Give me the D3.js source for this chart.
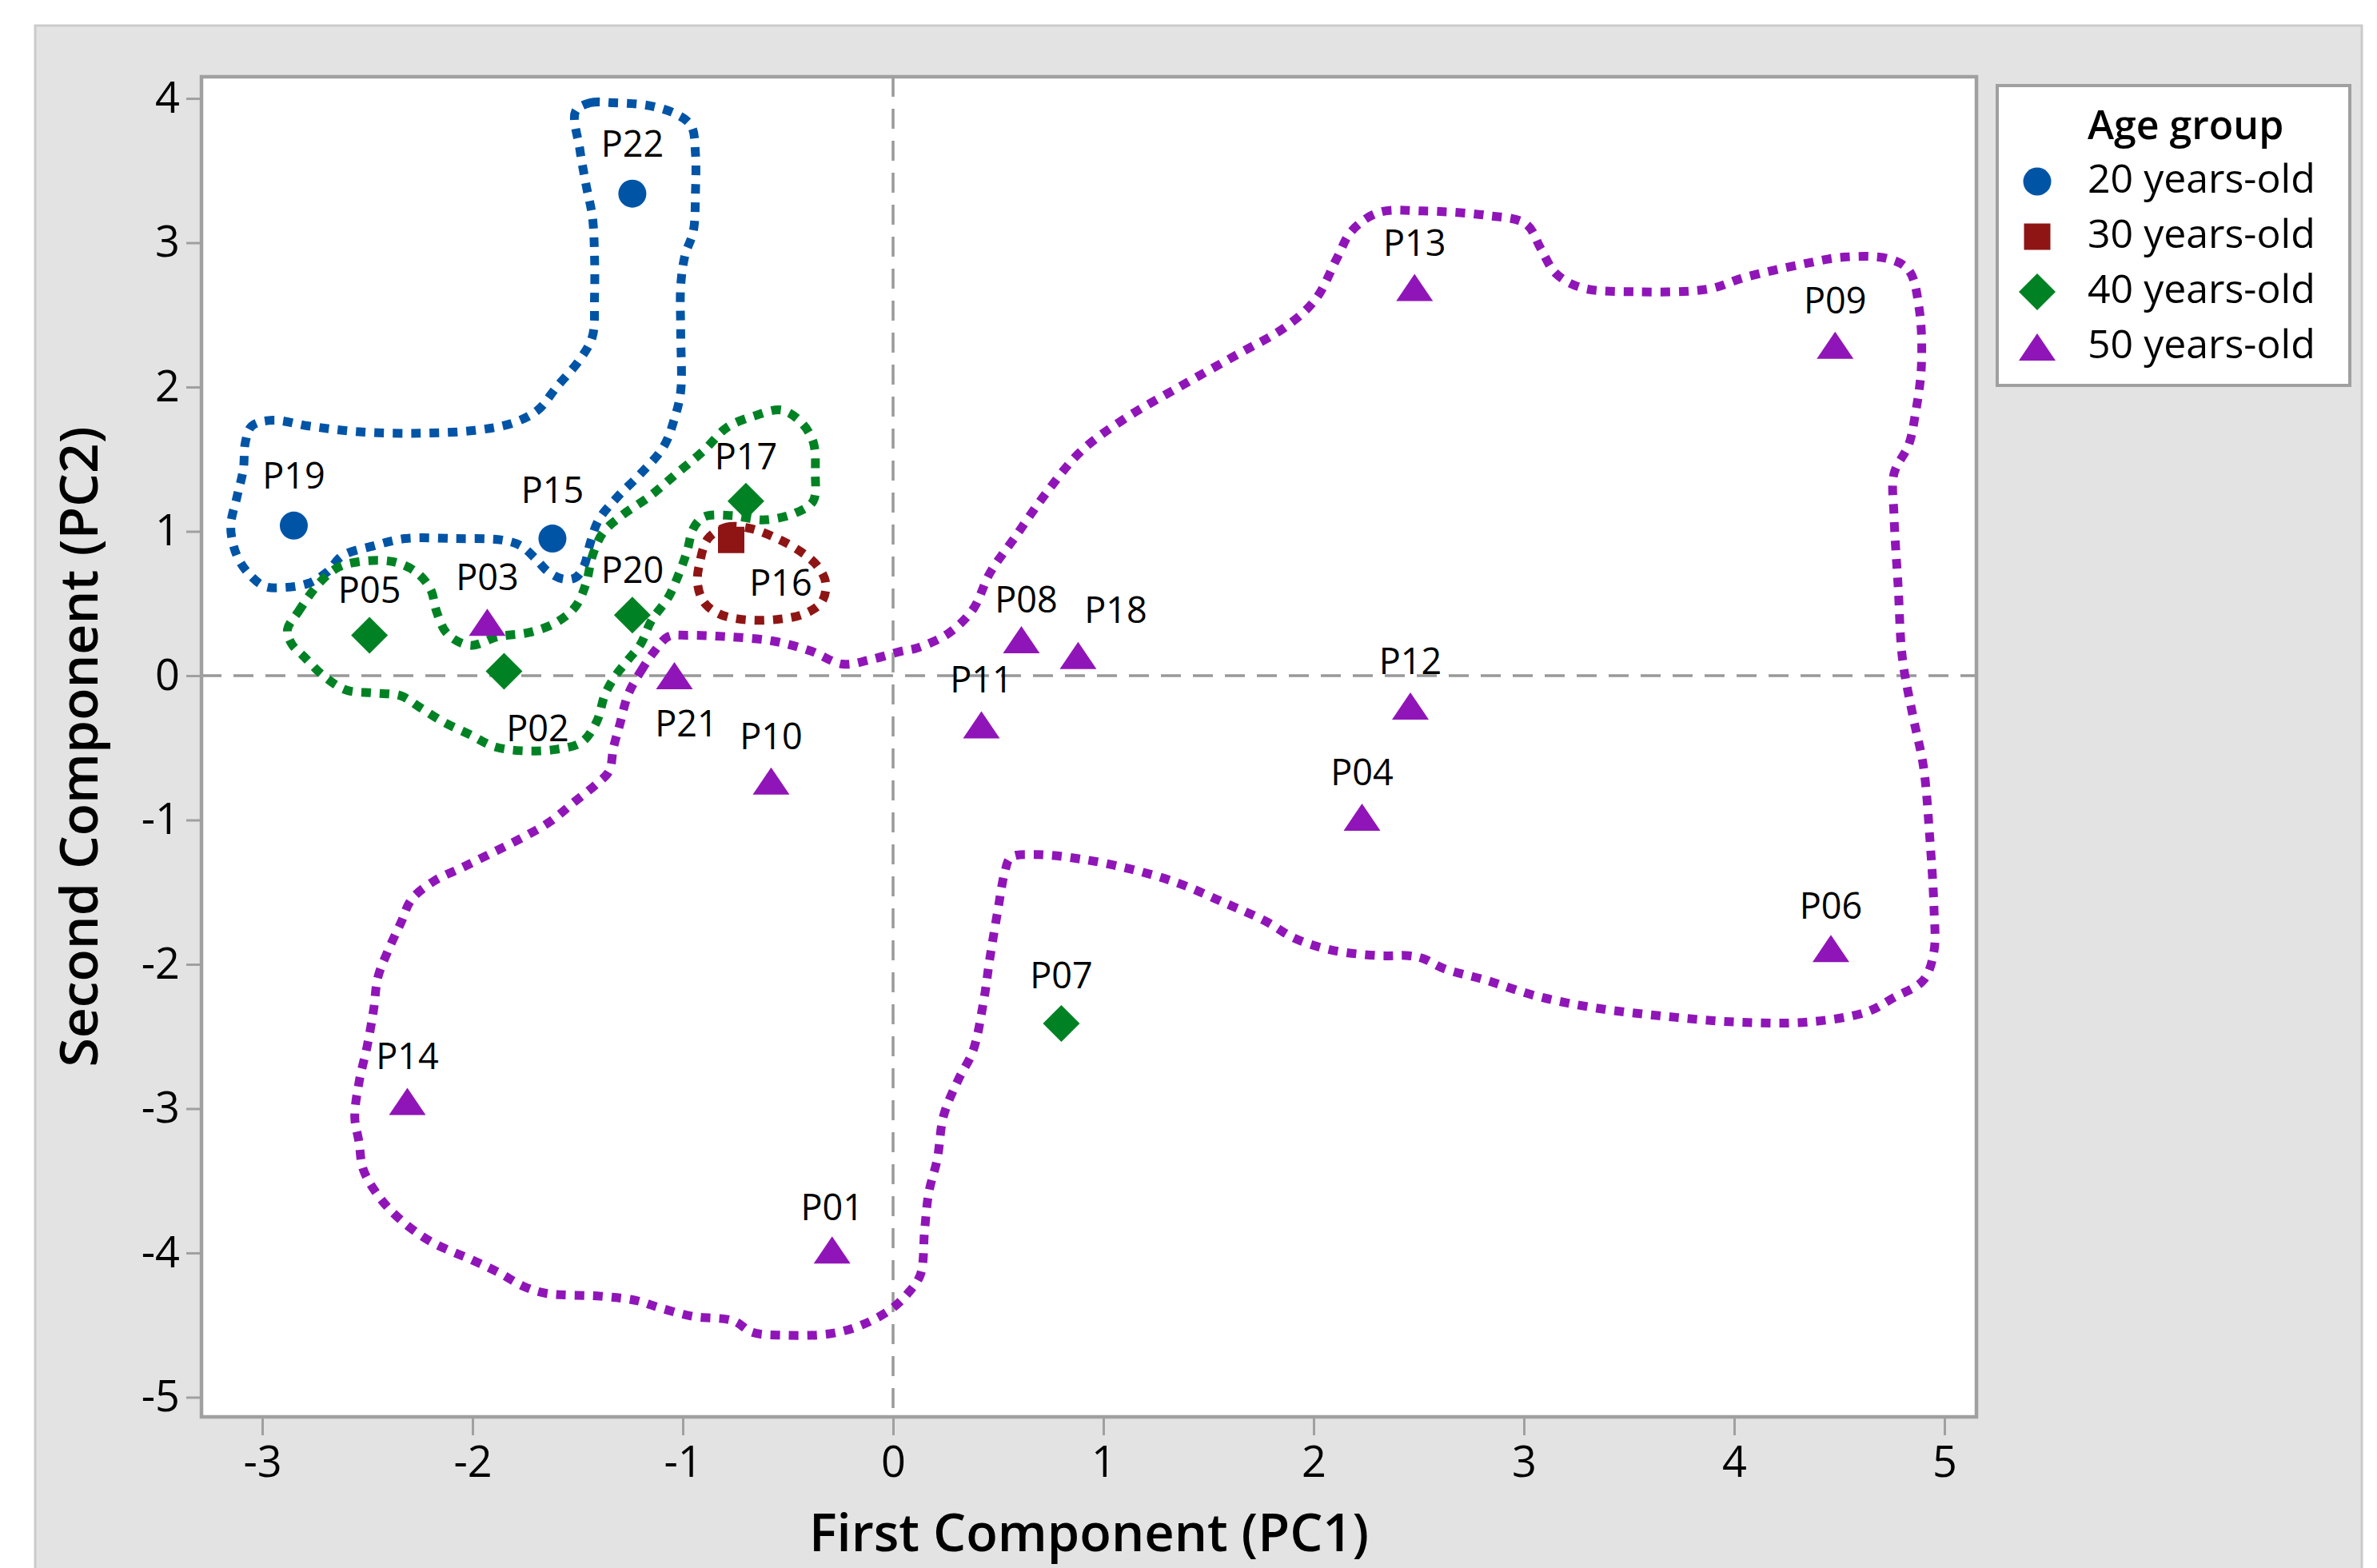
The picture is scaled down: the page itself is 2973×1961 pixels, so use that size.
<!DOCTYPE html>
<html>
<head>
<meta charset="utf-8">
<script src="https://cdn.jsdelivr.net/npm/d3@7"></script>
<style>
  body { margin: 0; background: #fff; }
  svg { display: block; }
  text { font-family: "Open Sans", "Noto Sans", sans-serif; fill: #000; }
</style>
</head>
<body>
<div id="viz"></div>
<script>
// --- data ---
const names = ["P01","P02","P03","P04","P05","P06","P07","P08","P09","P10","P11",
               "P12","P13","P14","P15","P16","P17","P18","P19","P20","P21","P22"];
const pc1 = [-0.29,-1.85,-1.93, 2.23,-2.49, 4.46, 0.80, 0.61, 4.48,-0.58, 0.42,
              2.46, 2.48,-2.31,-1.62,-0.77,-0.70, 0.88,-2.85,-1.24,-1.04,-1.24];
const pc2 = [-3.98, 0.03, 0.37,-0.98, 0.28,-1.89,-2.41, 0.25, 2.29,-0.73,-0.34,
             -0.21, 2.69,-2.95, 0.95, 0.94, 1.21, 0.14, 1.04, 0.42, 0.00, 3.34];
const ageGroup = [50,40,50,50,40,50,40,50,50,50,50,
                  50,50,50,20,30,40,50,20,40,50,20];

const groups = [20, 30, 40, 50];
const groupLabels = ["20 years-old", "30 years-old", "40 years-old", "50 years-old"];

const xTicks = [-3, -2, -1, 0, 1, 2, 3, 4, 5];
const yTicks = [-5, -4, -3, -2, -1, 0, 1, 2, 3, 4];

// hand drawn group outlines (PC1, PC2)
const outline20 = [[-1.51,3.91],[-1.44,3.97],[-1.33,3.97],[-1.16,3.95],[-1.03,3.89],[-0.96,3.81],
  [-0.94,3.62],[-0.94,3.34],[-0.95,3.08],[-0.99,2.91],[-1.01,2.70],[-1.01,2.38],[-1.01,1.97],
  [-1.04,1.78],[-1.09,1.59],[-1.20,1.40],[-1.31,1.24],[-1.40,1.08],[-1.44,0.92],[-1.47,0.76],
  [-1.51,0.68],[-1.57,0.67],[-1.64,0.72],[-1.70,0.81],[-1.77,0.90],[-1.86,0.94],[-2.08,0.95],
  [-2.32,0.95],[-2.47,0.90],[-2.62,0.83],[-2.69,0.72],[-2.78,0.64],[-2.91,0.61],[-2.99,0.62],
  [-3.06,0.70],[-3.12,0.83],[-3.15,1.03],[-3.12,1.24],[-3.09,1.43],[-3.08,1.62],[-3.05,1.73],
  [-2.95,1.77],[-2.78,1.73],[-2.54,1.69],[-2.25,1.68],[-1.99,1.70],[-1.81,1.75],[-1.69,1.84],
  [-1.60,2.00],[-1.49,2.19],[-1.43,2.35],[-1.42,2.61],[-1.42,2.92],[-1.43,3.18],[-1.46,3.40],
  [-1.49,3.65]];
const outline30 = [[-0.88,0.95],[-0.79,1.03],[-0.68,1.02],[-0.55,0.95],[-0.44,0.86],[-0.36,0.76],
  [-0.32,0.64],[-0.34,0.51],[-0.42,0.43],[-0.55,0.39],[-0.72,0.39],[-0.83,0.43],[-0.90,0.51],
  [-0.93,0.64],[-0.92,0.78]];
const outline40 = [[-2.88,0.32],[-2.83,0.44],[-2.73,0.64],[-2.64,0.75],[-2.54,0.79],[-2.38,0.79],
  [-2.27,0.72],[-2.20,0.60],[-2.17,0.44],[-2.12,0.29],[-2.01,0.21],[-1.88,0.27],[-1.73,0.30],
  [-1.60,0.37],[-1.51,0.48],[-1.46,0.64],[-1.43,0.83],[-1.38,0.99],[-1.29,1.11],[-1.16,1.24],
  [-1.03,1.40],[-0.90,1.56],[-0.79,1.72],[-0.66,1.80],[-0.53,1.84],[-0.44,1.76],[-0.38,1.62],
  [-0.37,1.40],[-0.38,1.21],[-0.46,1.13],[-0.61,1.08],[-0.77,1.11],[-0.90,1.10],[-0.95,1.02],
  [-0.98,0.86],[-1.02,0.70],[-1.07,0.54],[-1.15,0.38],[-1.20,0.22],[-1.26,0.11],[-1.32,0.00],
  [-1.37,-0.13],[-1.41,-0.32],[-1.48,-0.46],[-1.60,-0.51],[-1.77,-0.52],[-1.90,-0.49],
  [-2.01,-0.41],[-2.14,-0.32],[-2.25,-0.22],[-2.34,-0.14],[-2.47,-0.12],[-2.60,-0.10],
  [-2.71,0.00],[-2.80,0.13],[-2.86,0.22]];
const outline50 = [[-1.26,-0.13],[-1.20,0.03],[-1.14,0.16],[-1.07,0.27],[-0.98,0.28],[-0.79,0.27],
  [-0.57,0.24],[-0.39,0.17],[-0.24,0.08],[-0.11,0.11],[0.04,0.17],[0.11,0.19],[0.26,0.29],
  [0.38,0.46],[0.46,0.71],[0.58,0.96],[0.72,1.25],[0.89,1.55],[1.09,1.77],[1.36,2.00],[1.63,2.22],
  [1.87,2.42],[2.01,2.61],[2.11,2.89],[2.18,3.08],[2.31,3.21],[2.52,3.22],[2.82,3.19],[3.01,3.13],
  [3.08,2.96],[3.15,2.79],[3.27,2.69],[3.54,2.66],[3.88,2.68],[4.05,2.76],[4.32,2.85],[4.52,2.90],
  [4.73,2.89],[4.83,2.81],[4.88,2.54],[4.89,2.14],[4.86,1.80],[4.83,1.60],[4.76,1.40],[4.76,1.11],
  [4.78,0.61],[4.80,0.12],[4.85,-0.28],[4.90,-0.63],[4.93,-1.12],[4.95,-1.61],[4.95,-1.91],
  [4.90,-2.11],[4.76,-2.23],[4.63,-2.33],[4.35,-2.40],[4.01,-2.40],[3.67,-2.36],[3.33,-2.30],
  [3.06,-2.22],[2.82,-2.11],[2.62,-2.03],[2.52,-1.96],[2.45,-1.94],[2.31,-1.94],[2.08,-1.90],
  [1.91,-1.82],[1.77,-1.70],[1.57,-1.57],[1.36,-1.44],[1.13,-1.34],[0.89,-1.27],[0.68,-1.24],
  [0.56,-1.26],[0.53,-1.37],[0.50,-1.61],[0.46,-1.96],[0.43,-2.26],[0.38,-2.60],[0.31,-2.80],
  [0.24,-3.05],[0.21,-3.35],[0.17,-3.58],[0.15,-3.84],[0.13,-4.15],[0.07,-4.28],[-0.01,-4.39],
  [-0.15,-4.50],[-0.30,-4.56],[-0.52,-4.57],[-0.67,-4.55],[-0.76,-4.47],[-0.95,-4.44],
  [-1.11,-4.38],[-1.22,-4.33],[-1.39,-4.30],[-1.65,-4.28],[-1.76,-4.23],[-1.87,-4.14],
  [-2.00,-4.05],[-2.20,-3.92],[-2.35,-3.76],[-2.45,-3.60],[-2.52,-3.42],[-2.54,-3.23],
  [-2.56,-3.06],[-2.54,-2.82],[-2.50,-2.56],[-2.47,-2.31],[-2.45,-2.09],[-2.40,-1.90],
  [-2.34,-1.71],[-2.29,-1.55],[-2.18,-1.42],[-2.05,-1.33],[-1.91,-1.23],[-1.76,-1.12],
  [-1.63,-1.01],[-1.52,-0.88],[-1.41,-0.75],[-1.35,-0.66],[-1.33,-0.50],[-1.30,-0.34]];
const outlines = [outline20, outline30, outline40, outline50];

// --- layout / style ---
const W = 2973, H = 1961;
const plot = { left: 252, top: 96, right: 2472, bottom: 1772 };
const colors = { 20: "#0054a6", 30: "#8f1515", 40: "#008224", 50: "#9015b8" };
// label nudges in px (default: centred above the marker)
const labelNudge = { P16: [62, 54], P02: [42, 71], P21: [15, 60], P18: [47, -57], P08: [6, -50],
                     P22: [0, -62], P19: [0, -62], P15: [0, -61], P07: [0, -60], P06: [0, -53], P01: [0, -53] };

const x = d3.scaleLinear().domain([-3.289, 5.152]).range([plot.left, plot.right]);
const y = d3.scaleLinear().domain([-5.136, 4.150]).range([plot.bottom, plot.top]);

function shape(g) {
  if (g === 20) return "M17.5,0A17.5,17.5 0 1,1 -17.5,0A17.5,17.5 0 1,1 17.5,0Z";
  if (g === 30) return "M-16.5,-16.5H16.5V16.5H-16.5Z";
  if (g === 40) return "M0,-23L23,0L0,23L-23,0Z";
  return "M0,-17L23,17L-23,17Z";
}

const svg = d3.select("#viz").append("svg").attr("width", W).attr("height", H);

// outer panel
svg.append("rect").attr("x", 44).attr("y", 32).attr("width", 2910).attr("height", 2000)
  .attr("fill", "#e3e3e3").attr("stroke", "#cbcbcb").attr("stroke-width", 3);

// plot area
svg.append("rect").attr("x", plot.left).attr("y", plot.top)
  .attr("width", plot.right - plot.left).attr("height", plot.bottom - plot.top)
  .attr("fill", "#fff");

// reference lines
const ref = svg.append("g").attr("stroke", "#999").attr("stroke-width", 3.5).attr("stroke-dasharray", "25 15");
ref.append("line").attr("x1", x(0)).attr("x2", x(0)).attr("y1", plot.top).attr("y2", plot.bottom);
ref.append("line").attr("x1", plot.left).attr("x2", plot.right).attr("y1", y(0)).attr("y2", y(0));

// outlines
const line = d3.line().x(d => x(d[0])).y(d => y(d[1])).curve(d3.curveCatmullRomClosed.alpha(0.5));
svg.append("g").selectAll("path")
  .data(outlines).enter().append("path")
  .attr("d", line)
  .attr("fill", "none")
  .attr("stroke", (d, i) => colors[groups[i]])
  .attr("stroke-width", 11)
  .attr("stroke-dasharray", "12 11");

// frame
svg.append("rect").attr("x", plot.left).attr("y", plot.top)
  .attr("width", plot.right - plot.left).attr("height", plot.bottom - plot.top)
  .attr("fill", "none").attr("stroke", "#a0a0a0").attr("stroke-width", 4.5);

// axes (plain hyphen for negatives, as in the original)
const fmt = d => String(d);
const xAxis = svg.append("g").attr("transform", `translate(0,${plot.bottom + 2})`)
  .call(d3.axisBottom(x).tickValues(xTicks).tickSize(21).tickPadding(14).tickFormat(fmt));
const yAxis = svg.append("g").attr("transform", `translate(${plot.left - 2},0)`)
  .call(d3.axisLeft(y).tickValues(yTicks).tickSize(17).tickPadding(8).tickFormat(fmt));
[xAxis, yAxis].forEach(a => {
  a.select(".domain").remove();
  a.selectAll(".tick line").attr("stroke", "#a0a0a0").attr("stroke-width", 3);
  a.selectAll(".tick text").attr("font-size", 54).attr("fill", "#000")
    .style("font-family", '"Open Sans", sans-serif');
});

// points
const pts = names.map((n, i) => ({ name: n, pc1: pc1[i], pc2: pc2[i], g: ageGroup[i] }));
svg.append("g").selectAll("path")
  .data(pts).enter().append("path")
  .attr("transform", d => `translate(${x(d.pc1)},${y(d.pc2)})`)
  .attr("d", d => shape(d.g))
  .attr("fill", d => colors[d.g]);

svg.append("g").selectAll("text")
  .data(pts).enter().append("text")
  .attr("x", d => x(d.pc1) + (labelNudge[d.name] || [0, -56])[0])
  .attr("y", d => y(d.pc2) + (labelNudge[d.name] || [0, -56])[1] + 16)
  .attr("text-anchor", "middle")
  .attr("font-size", 45)
  .text(d => d.name);

// axis titles
svg.append("text").attr("x", (plot.left + plot.right) / 2).attr("y", 1940)
  .attr("text-anchor", "middle").attr("font-size", 65).attr("font-weight", 600)
  .text("First Component (PC1)");
svg.append("text").attr("transform", `translate(122,${(plot.top + plot.bottom) / 2}) rotate(-90)`)
  .attr("text-anchor", "middle").attr("font-size", 66).attr("font-weight", 600)
  .text("Second Component (PC2)");

// legend
const lg = svg.append("g");
lg.append("rect").attr("x", 2498).attr("y", 107).attr("width", 441).attr("height", 375)
  .attr("fill", "#fff").attr("stroke", "#a0a0a0").attr("stroke-width", 4);
lg.append("text").attr("x", 2611).attr("y", 174).attr("font-size", 50).attr("font-weight", 600)
  .text("Age group");
const items = lg.selectAll(".item").data(groups).enter().append("g")
  .attr("class", "item")
  .attr("transform", (d, i) => `translate(0,${241 + i * 69})`);
items.append("path").attr("transform", "translate(2548,-14)")
  .attr("d", d => shape(d)).attr("fill", d => colors[d]);
items.append("text").attr("x", 2611).attr("y", 0).attr("font-size", 50)
  .text((d, i) => groupLabels[i]);
</script>
</body>
</html>
